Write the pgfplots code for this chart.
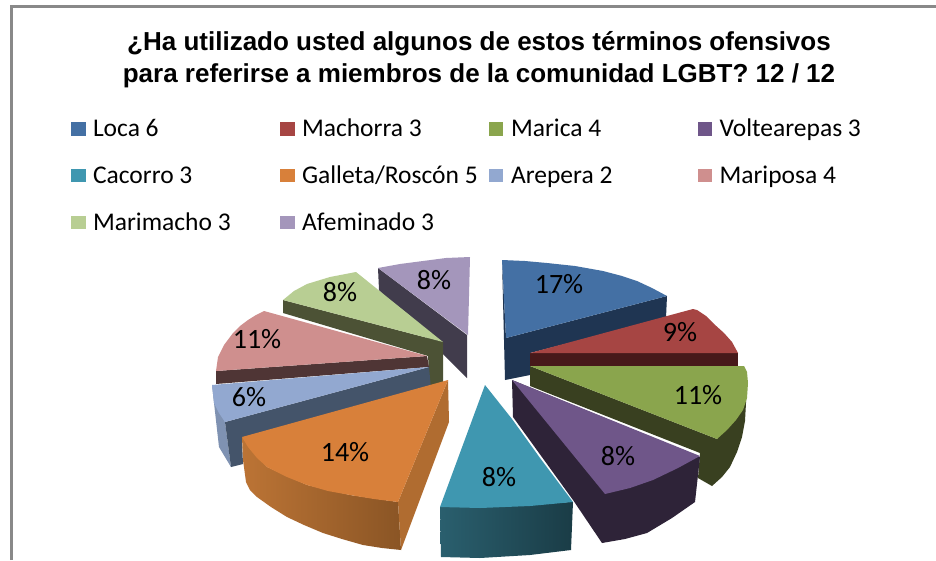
\documentclass[border=0pt]{standalone}
\usepackage{pgfplots}
\pgfplotsset{compat=1.18}
\usepackage{fontspec}
\setmainfont{Carlito}
\newfontfamily\titlefont{Liberation Sans}

% tops
\definecolor{cLoca}{HTML}{4470A4}
\definecolor{cMach}{HTML}{A64543}
\definecolor{cMari}{HTML}{8AA54D}
\definecolor{cVolt}{HTML}{6F5689}
\definecolor{cCaco}{HTML}{3F97B0}
\definecolor{cGall}{HTML}{D8803A}
\definecolor{cArep}{HTML}{92A8D0}
\definecolor{cMpos}{HTML}{CF8F8E}
\definecolor{cMmac}{HTML}{B8CE93}
\definecolor{cAfem}{HTML}{A496BB}
% sides
\definecolor{sLoca}{HTML}{1F3552}
\definecolor{sMach}{HTML}{47191A}
\definecolor{sMari}{HTML}{394020}
\definecolor{sVolt}{HTML}{2E2338}
\definecolor{sCacoL}{HTML}{2A5F6E}
\definecolor{sCacoR}{HTML}{1A3C46}
\definecolor{sGallL}{HTML}{BC7435}
\definecolor{sGallR}{HTML}{8A5525}
\definecolor{sGallE}{HTML}{B06C30}
\definecolor{sArep}{HTML}{44546A}
\definecolor{sArepE}{HTML}{7F92B2}
\definecolor{sMpos}{HTML}{4F3535}
\definecolor{sMmac}{HTML}{4C5235}
\definecolor{sAfem}{HTML}{413C4C}
\definecolor{frame}{HTML}{898989}

\begin{document}
\begin{tikzpicture}
\begin{axis}[
    scale only axis,
    width=936pt, height=560pt,
    xmin=0, xmax=936, ymin=0, ymax=560,
    y dir=reverse,
    hide axis,
    every node/.append style={inner sep=0pt},
]
% page corners and frame
\addplot[draw=none, fill=white] coordinates {(0,0) (936,0) (936,560) (0,560)} --cycle;
\addplot[frame, line width=2.6pt] coordinates {(11.3,560) (11.3,6.3) (936,6.3)};

% back slices
\addplot[draw=none, fill=sLoca] coordinates {(502,260) (506,338) (667,296) (666,318) (530,353) (530,375) (505,380)} --cycle;
\addplot[draw=none, fill=cLoca] coordinates {(502,260) (525,261) (547,263) (575,266) (603,271) (622,276) (637,281) (652,288) (667,296) (506,338)} --cycle;

\addplot[draw=none, fill=sAfem] coordinates {(378,268) (467,335) (467,378) (379,290)} --cycle;
\addplot[draw=none, fill=cAfem] coordinates {(378,268) (400,264) (423,261) (446,258) (470,257) (468,335)} --cycle;

\addplot[draw=none, fill=sMmac] coordinates {(283,300) (443,342) (443,384) (430,387) (428,356) (283,313)} --cycle;
\addplot[draw=none, fill=cMmac] coordinates {(283,300) (294,291) (307,284) (330,277) (356,272) (443,342)} --cycle;

\addplot[draw=none, fill=sMpos] coordinates {(427,356) (216,371) (216,384) (429,367)} --cycle;
\addplot[draw=none, fill=cMpos] coordinates {(427,356) (216,371) (218,357) (224,345) (233,333) (240,326) (248,320) (256,315) (264,311)} --cycle;

\addplot[draw=none, fill=sArepE] coordinates {(212,385) (214,403) (219,447) (231,467) (225,422)} --cycle;
\addplot[draw=none, fill=sArep] coordinates {(429,367) (225,422) (231,467) (243,464) (242,441) (431,389)} --cycle;
\addplot[draw=none, fill=cArep] coordinates {(429,367) (212,385) (214,403) (219,413) (225,422)} --cycle;

\addplot[draw=none, left color=sGallL, right color=sGallR] coordinates {(242,437) (243,460) (246,482) (250,490) (257,497) (271,507) (287,517) (304,525) (323,533) (342,539) (363,545) (382,548) (401,550) (398,502) (350,495) (307,485) (267,467)} --cycle;
\addplot[draw=none, fill=sGallE] coordinates {(398,502) (448,380) (449,422) (401,550)} --cycle;
\addplot[draw=none, fill=cGall] coordinates {(448,380) (242,437) (248,447) (257,458) (267,467) (287,477) (307,485) (328,491) (350,495) (374,499) (398,502)} --cycle;

% right and front slices
\addplot[draw=none, fill=sMach] coordinates {(530,353) (738,353) (738,366) (530,366)} --cycle;
\addplot[draw=none, fill=cMach] coordinates {(530,353) (693,309) (697,310) (706,316) (714,324) (724,333) (732,342) (738,353)} --cycle;

\addplot[draw=none, fill=sMari] coordinates {(530,366) (717,439) (746,395) (746,403) (745,421) (742,437) (737,452) (730,467) (722,477) (712,486) (698,478) (700,453) (530,386)} --cycle;
\addplot[draw=none, fill=cMari] coordinates {(530,366) (744,366) (747,372) (748,383) (747,398) (743,410) (736,420) (727,430) (717,439)} --cycle;

\addplot[draw=none, fill=sVolt] coordinates {(512,380) (700,457) (695,502) (672,518) (647,533) (625,539) (602,543) (573,500) (513,417)} --cycle;
\addplot[draw=none, fill=cVolt] coordinates {(512,380) (700,456) (678,468) (653,480) (630,488) (605,494)} --cycle;

\addplot[draw=none, left color=sCacoL, right color=sCacoR] coordinates {(440,507) (441,557) (480,558) (530,555) (571,550) (573,502)} --cycle;
\addplot[draw=none, fill=cCaco] coordinates {(485,385) (512,419) (540,458) (573,502) (530,506) (480,508) (440,507)} --cycle;

% legend keys
\addplot[draw=none, fill=cLoca] coordinates {(71,122) (85.5,122) (85.5,136) (71,136)} --cycle;
\addplot[draw=none, fill=cMach] coordinates {(280,122) (294.5,122) (294.5,136) (280,136)} --cycle;
\addplot[draw=none, fill=cMari] coordinates {(489,122) (503,122) (503,136) (489,136)} --cycle;
\addplot[draw=none, fill=cVolt] coordinates {(698,122) (712,122) (712,136) (698,136)} --cycle;
\addplot[draw=none, fill=cCaco] coordinates {(71,169) (85.5,169) (85.5,182) (71,182)} --cycle;
\addplot[draw=none, fill=cGall] coordinates {(280,169) (294.5,169) (294.5,182) (280,182)} --cycle;
\addplot[draw=none, fill=cArep] coordinates {(489,169) (503,169) (503,182) (489,182)} --cycle;
\addplot[draw=none, fill=cMpos] coordinates {(698,169) (712,169) (712,182) (698,182)} --cycle;
\addplot[draw=none, fill=cMmac] coordinates {(71,216) (85.5,216) (85.5,229) (71,229)} --cycle;
\addplot[draw=none, fill=cAfem] coordinates {(280,216) (294.5,216) (294.5,229) (280,229)} --cycle;

% title
\node[font=\titlefont\bfseries\fontsize{26}{32}\selectfont, align=center, anchor=center] at (axis cs:479,60) {¿Ha utilizado usted algunos de estos términos ofensivos\\para referirse a miembros de la comunidad LGBT? 12 / 12};

% legend text
\begin{scope}[every node/.append style={font=\fontsize{25.5}{30}\selectfont, anchor=base west}]
\node at (axis cs:89.5,136) {Loca 6};
\node at (axis cs:298.5,136) {Machorra 3};
\node at (axis cs:507.5,136) {Marica 4};
\node at (axis cs:716,136) {Voltearepas 3};
\node at (axis cs:89.5,183) {Cacorro 3};
\node at (axis cs:298.5,183) {Galleta/Roscón 5};
\node at (axis cs:507.5,183) {Arepera 2};
\node at (axis cs:716,183) {Mariposa 4};
\node at (axis cs:89.5,230) {Marimacho 3};
\node at (axis cs:298.5,230) {Afeminado 3};
\end{scope}

% percentages
\begin{scope}[every node/.append style={font=\fontsize{28}{30}\selectfont, anchor=center}]
\node at (axis cs:559,284) {17\%};
\node at (axis cs:680,332) {9\%};
\node at (axis cs:698,395) {11\%};
\node at (axis cs:618,456) {8\%};
\node at (axis cs:499,477) {8\%};
\node at (axis cs:345,452) {14\%};
\node at (axis cs:249,397) {6\%};
\node at (axis cs:257,339) {11\%};
\node at (axis cs:340,292) {8\%};
\node at (axis cs:434,280) {8\%};
\end{scope}
\end{axis}
\end{tikzpicture}
\end{document}
